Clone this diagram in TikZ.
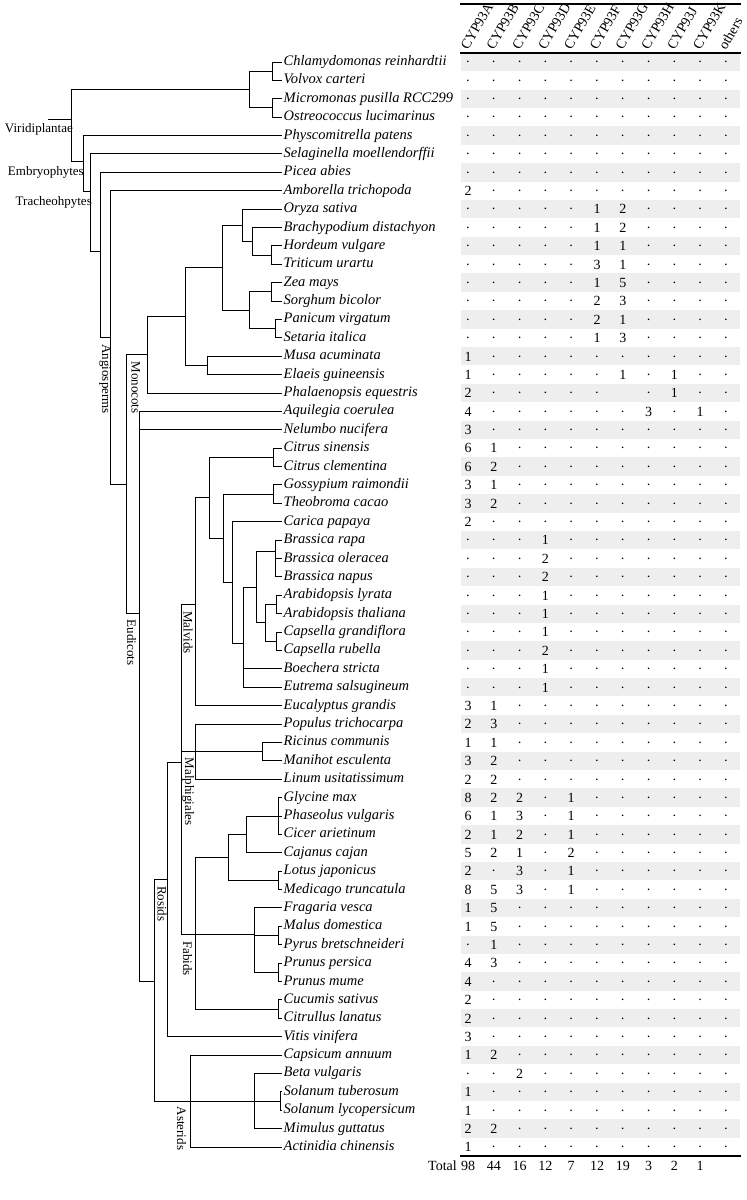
\documentclass[tikz,border=0pt]{standalone}
\usepackage{fontspec}
\setmainfont{Liberation Serif}
\definecolor{bandgray}{RGB}{238,238,238}
\newcommand\dt{·}
\newcommand\tabrow[2]{%
  \foreach \v [count=\i from 0] in {#2} {%
    \node[cell] (t#1-\i) at ({468+25.8*\i},{#1+0.26}) {\v};}}
\newcommand\tedge[2]{\draw[br] (#1) |- (#2);}
\begin{document}
\begin{tikzpicture}[x=1pt,y=-18.39pt,
  br/.style={line width=1pt},
  sp/.style={anchor=west,inner sep=1.5pt,text height=10pt,text depth=3pt,font=\fontsize{14.5}{16}\selectfont\itshape},
  clade/.style={inner sep=0pt,font=\fontsize{13}{15}\selectfont},
  vclade/.style={clade,rotate=-90,anchor=base west},
  hdr/.style={rotate=60,anchor=base west,inner sep=0pt,font=\fontsize{14}{16}\selectfont},
  cell/.style={anchor=base,inner sep=0pt,font=\fontsize{14}{16}\selectfont},
  rulel/.style={line width=2.2pt}]
\useasboundingbox (0,-2.3714) rectangle (747,62.8814);

% ---------- table background ----------
\foreach \r in {1,3,...,59} \fill[bandgray] (461,\r-0.5) rectangle (740,\r+0.5);
\draw[rulel] (460,-2.154) -- (741,-2.154);
\draw[line width=1.8pt] (460,0.5) -- (741,0.5);
\draw[line width=2pt] (460,60.5) -- (741,60.5);

% ---------- headers ----------
\foreach \h [count=\i from 0] in {CYP93A,CYP93B,CYP93C,CYP93D,CYP93E,CYP93F,CYP93G,CYP93H,CYP93J,CYP93K,others}
  \node[hdr] (h\i) at ({468+25.8*\i},0.40) {\h};

% ---------- leaves ----------
\node[sp] (s1) at (282,1) {Chlamydomonas reinhardtii};
\node[sp] (s2) at (282,2) {Volvox carteri};
\node[sp] (s3) at (282,3) {Micromonas pusilla RCC299};
\node[sp] (s4) at (282,4) {Ostreococcus lucimarinus};
\node[sp] (s5) at (282,5) {Physcomitrella patens};
\node[sp] (s6) at (282,6) {Selaginella moellendorffii};
\node[sp] (s7) at (282,7) {Picea abies};
\node[sp] (s8) at (282,8) {Amborella trichopoda};
\node[sp] (s9) at (282,9) {Oryza sativa};
\node[sp] (s10) at (282,10) {Brachypodium distachyon};
\node[sp] (s11) at (282,11) {Hordeum vulgare};
\node[sp] (s12) at (282,12) {Triticum urartu};
\node[sp] (s13) at (282,13) {Zea mays};
\node[sp] (s14) at (282,14) {Sorghum bicolor};
\node[sp] (s15) at (282,15) {Panicum virgatum};
\node[sp] (s16) at (282,16) {Setaria italica};
\node[sp] (s17) at (282,17) {Musa acuminata};
\node[sp] (s18) at (282,18) {Elaeis guineensis};
\node[sp] (s19) at (282,19) {Phalaenopsis equestris};
\node[sp] (s20) at (282,20) {Aquilegia coerulea};
\node[sp] (s21) at (282,21) {Nelumbo nucifera};
\node[sp] (s22) at (282,22) {Citrus sinensis};
\node[sp] (s23) at (282,23) {Citrus clementina};
\node[sp] (s24) at (282,24) {Gossypium raimondii};
\node[sp] (s25) at (282,25) {Theobroma cacao};
\node[sp] (s26) at (282,26) {Carica papaya};
\node[sp] (s27) at (282,27) {Brassica rapa};
\node[sp] (s28) at (282,28) {Brassica oleracea};
\node[sp] (s29) at (282,29) {Brassica napus};
\node[sp] (s30) at (282,30) {Arabidopsis lyrata};
\node[sp] (s31) at (282,31) {Arabidopsis thaliana};
\node[sp] (s32) at (282,32) {Capsella grandiflora};
\node[sp] (s33) at (282,33) {Capsella rubella};
\node[sp] (s34) at (282,34) {Boechera stricta};
\node[sp] (s35) at (282,35) {Eutrema salsugineum};
\node[sp] (s36) at (282,36) {Eucalyptus grandis};
\node[sp] (s37) at (282,37) {Populus trichocarpa};
\node[sp] (s38) at (282,38) {Ricinus communis};
\node[sp] (s39) at (282,39) {Manihot esculenta};
\node[sp] (s40) at (282,40) {Linum usitatissimum};
\node[sp] (s41) at (282,41) {Glycine max};
\node[sp] (s42) at (282,42) {Phaseolus vulgaris};
\node[sp] (s43) at (282,43) {Cicer arietinum};
\node[sp] (s44) at (282,44) {Cajanus cajan};
\node[sp] (s45) at (282,45) {Lotus japonicus};
\node[sp] (s46) at (282,46) {Medicago truncatula};
\node[sp] (s47) at (282,47) {Fragaria vesca};
\node[sp] (s48) at (282,48) {Malus domestica};
\node[sp] (s49) at (282,49) {Pyrus bretschneideri};
\node[sp] (s50) at (282,50) {Prunus persica};
\node[sp] (s51) at (282,51) {Prunus mume};
\node[sp] (s52) at (282,52) {Cucumis sativus};
\node[sp] (s53) at (282,53) {Citrullus lanatus};
\node[sp] (s54) at (282,54) {Vitis vinifera};
\node[sp] (s55) at (282,55) {Capsicum annuum};
\node[sp] (s56) at (282,56) {Beta vulgaris};
\node[sp] (s57) at (282,57) {Solanum tuberosum};
\node[sp] (s58) at (282,58) {Solanum lycopersicum};
\node[sp] (s59) at (282,59) {Mimulus guttatus};
\node[sp] (s60) at (282,60) {Actinidia chinensis};

% ---------- internal nodes ----------
\coordinate (RS) at (48,4.1);
\coordinate (ROOT) at (71,4.1);
\coordinate (GA) at (249,2.5);
\coordinate (CV) at (272,1.5);
\coordinate (MO) at (272,3.5);
\coordinate (EMB) at (83,6.4);
\coordinate (TRA) at (90.7,8.05);
\coordinate (SPE) at (100,11.3);
\coordinate (ANG) at (110,16.0);
\coordinate (MES) at (126,24.0);
\coordinate (MON) at (147.7,16.92);
\coordinate (COM) at (185,14.84);
\coordinate (POA) at (222.7,12.19);
\coordinate (BOP) at (242.7,9.875);
\coordinate (BHT) at (252.7,10.75);
\coordinate (HT) at (271.7,11.5);
\coordinate (PAC) at (249.3,14.5);
\coordinate (ZS) at (271.7,13.5);
\coordinate (PS) at (275,15.5);
\coordinate (ME) at (207.3,17.5);
\coordinate (EUD) at (139.5,31.0);
\coordinate (CORE) at (154,51.0);
\coordinate (SRS) at (167.3,45.45);
\coordinate (RSD) at (181.7,39.11);
\coordinate (MAL) at (195.5,30.5);
\coordinate (N209) at (209,24.7);
\coordinate (CIT) at (273.3,22.5);
\coordinate (MB) at (223.3,26.9);
\coordinate (GT) at (273.3,24.5);
\coordinate (CB) at (232.7,29.3);
\coordinate (BRS) at (243.3,32.6);
\coordinate (BA) at (256.7,29.55);
\coordinate (BRA) at (275,27.6);
\coordinate (AC) at (265.7,31.5);
\coordinate (AL) at (276.7,30.5);
\coordinate (CAP) at (276.7,32.5);
\coordinate (MPG) at (195.5,38.5);
\coordinate (RM) at (262.3,38.5);
\coordinate (FBD) at (195.5,48.45);
\coordinate (FAB) at (228.3,44.25);
\coordinate (GPCC) at (246.7,43);
\coordinate (GPC) at (278.3,42);
\coordinate (LM) at (278.3,45.5);
\coordinate (ROS) at (254,48.45);
\coordinate (MP) at (278.3,48.5);
\coordinate (PP) at (278.3,50.5);
\coordinate (CUC) at (278.3,52.5);
\coordinate (AST) at (190,57.5);
\coordinate (BSM) at (254,57.5);
\coordinate (SOL) at (280,57.5);

% ---------- branches ----------
\draw[br] (RS) -- (ROOT);
\tedge{ROOT}{GA} \tedge{ROOT}{EMB}
\tedge{GA}{CV} \tedge{GA}{MO}
\tedge{CV}{s1.west} \tedge{CV}{s2.west}
\tedge{MO}{s3.west} \tedge{MO}{s4.west}
\tedge{EMB}{s5.west} \tedge{EMB}{TRA}
\tedge{TRA}{s6.west} \tedge{TRA}{SPE}
\tedge{SPE}{s7.west} \tedge{SPE}{ANG}
\tedge{ANG}{s8.west} \tedge{ANG}{MES}
\tedge{MES}{MON} \tedge{MES}{EUD}
\tedge{MON}{COM} \tedge{MON}{s19.west}
\tedge{COM}{POA} \tedge{COM}{ME}
\tedge{POA}{BOP} \tedge{POA}{PAC}
\tedge{BOP}{s9.west} \tedge{BOP}{BHT}
\tedge{BHT}{s10.west} \tedge{BHT}{HT}
\tedge{HT}{s11.west} \tedge{HT}{s12.west}
\tedge{PAC}{ZS} \tedge{PAC}{PS}
\tedge{ZS}{s13.west} \tedge{ZS}{s14.west}
\tedge{PS}{s15.west} \tedge{PS}{s16.west}
\tedge{ME}{s17.west} \tedge{ME}{s18.west}
\tedge{EUD}{s20.west} \tedge{EUD}{s21.west} \tedge{EUD}{CORE}
\tedge{CORE}{SRS} \tedge{CORE}{AST}
\tedge{SRS}{RSD} \tedge{SRS}{s54.west}
\tedge{RSD}{MAL} \tedge{RSD}{MPG} \tedge{RSD}{FBD}
\tedge{MAL}{N209} \tedge{MAL}{s36.west}
\tedge{N209}{CIT} \tedge{N209}{MB}
\tedge{CIT}{s22.west} \tedge{CIT}{s23.west}
\tedge{MB}{GT} \tedge{MB}{CB}
\tedge{GT}{s24.west} \tedge{GT}{s25.west}
\tedge{CB}{s26.west} \tedge{CB}{BRS}
\tedge{BRS}{BA} \tedge{BRS}{s34.west} \tedge{BRS}{s35.west}
\tedge{BA}{BRA} \tedge{BA}{AC}
\tedge{BRA}{s27.west} \tedge{BRA}{s28.west} \tedge{BRA}{s29.west}
\tedge{AC}{AL} \tedge{AC}{CAP}
\tedge{AL}{s30.west} \tedge{AL}{s31.west}
\tedge{CAP}{s32.west} \tedge{CAP}{s33.west}
\tedge{MPG}{s37.west} \tedge{MPG}{RM} \tedge{MPG}{s40.west}
\tedge{RM}{s38.west} \tedge{RM}{s39.west}
\tedge{FBD}{FAB} \tedge{FBD}{ROS} \tedge{FBD}{CUC}
\tedge{FAB}{GPCC} \tedge{FAB}{LM}
\tedge{GPCC}{GPC} \tedge{GPCC}{s44.west}
\tedge{GPC}{s41.west} \tedge{GPC}{s42.west} \tedge{GPC}{s43.west}
\tedge{LM}{s45.west} \tedge{LM}{s46.west}
\tedge{ROS}{s47.west} \tedge{ROS}{MP} \tedge{ROS}{PP}
\tedge{MP}{s48.west} \tedge{MP}{s49.west}
\tedge{PP}{s50.west} \tedge{PP}{s51.west}
\tedge{CUC}{s52.west} \tedge{CUC}{s53.west}
\tedge{AST}{s55.west} \tedge{AST}{BSM} \tedge{AST}{s60.west}
\tedge{BSM}{s56.west} \tedge{BSM}{SOL} \tedge{BSM}{s59.west}
\tedge{SOL}{s57.west} \tedge{SOL}{s58.west}

% ---------- clade labels ----------
\node[clade,anchor=base east] (lvir) at (73,4.86) {Viridiplantae};
\node[clade,anchor=base east] (lemb) at (84,7.16) {Embryophytes};
\node[clade,anchor=base east] (ltra) at (92,8.81) {Tracheohpytes};
\node[vclade] (lang) at (102,16.35) {Angiosperms};
\node[vclade] (lmon) at (131.5,17.28) {Monocots};
\node[vclade] (leud) at (127,31.33) {Eudicots};
\node[vclade] (lmal) at (183.5,30.86) {Malvids};
\node[vclade] (lmpg) at (185,38.83) {Malphigiales};
\node[vclade] (lfab) at (183,48.8) {Fabids};
\node[vclade] (lros) at (157.5,45.8) {Rosids};
\node[vclade] (last) at (177,57.8) {Asterids};

% ---------- table values ----------
\tabrow{1}{\dt,\dt,\dt,\dt,\dt,\dt,\dt,\dt,\dt,\dt,\dt}
\tabrow{2}{\dt,\dt,\dt,\dt,\dt,\dt,\dt,\dt,\dt,\dt,\dt}
\tabrow{3}{\dt,\dt,\dt,\dt,\dt,\dt,\dt,\dt,\dt,\dt,\dt}
\tabrow{4}{\dt,\dt,\dt,\dt,\dt,\dt,\dt,\dt,\dt,\dt,\dt}
\tabrow{5}{\dt,\dt,\dt,\dt,\dt,\dt,\dt,\dt,\dt,\dt,\dt}
\tabrow{6}{\dt,\dt,\dt,\dt,\dt,\dt,\dt,\dt,\dt,\dt,\dt}
\tabrow{7}{\dt,\dt,\dt,\dt,\dt,\dt,\dt,\dt,\dt,\dt,\dt}
\tabrow{8}{2,\dt,\dt,\dt,\dt,\dt,\dt,\dt,\dt,\dt,\dt}
\tabrow{9}{\dt,\dt,\dt,\dt,\dt,1,2,\dt,\dt,\dt,\dt}
\tabrow{10}{\dt,\dt,\dt,\dt,\dt,1,2,\dt,\dt,\dt,\dt}
\tabrow{11}{\dt,\dt,\dt,\dt,\dt,1,1,\dt,\dt,\dt,\dt}
\tabrow{12}{\dt,\dt,\dt,\dt,\dt,3,1,\dt,\dt,\dt,\dt}
\tabrow{13}{\dt,\dt,\dt,\dt,\dt,1,5,\dt,\dt,\dt,\dt}
\tabrow{14}{\dt,\dt,\dt,\dt,\dt,2,3,\dt,\dt,\dt,\dt}
\tabrow{15}{\dt,\dt,\dt,\dt,\dt,2,1,\dt,\dt,\dt,\dt}
\tabrow{16}{\dt,\dt,\dt,\dt,\dt,1,3,\dt,\dt,\dt,\dt}
\tabrow{17}{1,\dt,\dt,\dt,\dt,\dt,\dt,\dt,\dt,\dt,\dt}
\tabrow{18}{1,\dt,\dt,\dt,\dt,\dt,1,\dt,1,\dt,\dt}
\tabrow{19}{2,\dt,\dt,\dt,\dt,\dt,{},\dt,1,\dt,\dt}
\tabrow{20}{4,\dt,\dt,\dt,\dt,\dt,\dt,3,\dt,1,\dt}
\tabrow{21}{3,\dt,\dt,\dt,\dt,\dt,\dt,\dt,\dt,\dt,\dt}
\tabrow{22}{6,1,\dt,\dt,\dt,\dt,\dt,\dt,\dt,\dt,\dt}
\tabrow{23}{6,2,\dt,\dt,\dt,\dt,\dt,\dt,\dt,\dt,\dt}
\tabrow{24}{3,1,\dt,\dt,\dt,\dt,\dt,\dt,\dt,\dt,\dt}
\tabrow{25}{3,2,\dt,\dt,\dt,\dt,\dt,\dt,\dt,\dt,\dt}
\tabrow{26}{2,\dt,\dt,\dt,\dt,\dt,\dt,\dt,\dt,\dt,\dt}
\tabrow{27}{\dt,\dt,\dt,1,\dt,\dt,\dt,\dt,\dt,\dt,\dt}
\tabrow{28}{\dt,\dt,\dt,2,\dt,\dt,\dt,\dt,\dt,\dt,\dt}
\tabrow{29}{\dt,\dt,\dt,2,\dt,\dt,\dt,\dt,\dt,\dt,\dt}
\tabrow{30}{\dt,\dt,\dt,1,\dt,\dt,\dt,\dt,\dt,\dt,\dt}
\tabrow{31}{\dt,\dt,\dt,1,\dt,\dt,\dt,\dt,\dt,\dt,\dt}
\tabrow{32}{\dt,\dt,\dt,1,\dt,\dt,\dt,\dt,\dt,\dt,\dt}
\tabrow{33}{\dt,\dt,\dt,2,\dt,\dt,\dt,\dt,\dt,\dt,\dt}
\tabrow{34}{\dt,\dt,\dt,1,\dt,\dt,\dt,\dt,\dt,\dt,\dt}
\tabrow{35}{\dt,\dt,\dt,1,\dt,\dt,\dt,\dt,\dt,\dt,\dt}
\tabrow{36}{3,1,\dt,\dt,\dt,\dt,\dt,\dt,\dt,\dt,\dt}
\tabrow{37}{2,3,\dt,\dt,\dt,\dt,\dt,\dt,\dt,\dt,\dt}
\tabrow{38}{1,1,\dt,\dt,\dt,\dt,\dt,\dt,\dt,\dt,\dt}
\tabrow{39}{3,2,\dt,\dt,\dt,\dt,\dt,\dt,\dt,\dt,\dt}
\tabrow{40}{2,2,\dt,\dt,\dt,\dt,\dt,\dt,\dt,\dt,\dt}
\tabrow{41}{8,2,2,\dt,1,\dt,\dt,\dt,\dt,\dt,\dt}
\tabrow{42}{6,1,3,\dt,1,\dt,\dt,\dt,\dt,\dt,\dt}
\tabrow{43}{2,1,2,\dt,1,\dt,\dt,\dt,\dt,\dt,\dt}
\tabrow{44}{5,2,1,\dt,2,\dt,\dt,\dt,\dt,\dt,\dt}
\tabrow{45}{2,\dt,3,\dt,1,\dt,\dt,\dt,\dt,\dt,\dt}
\tabrow{46}{8,5,3,\dt,1,\dt,\dt,\dt,\dt,\dt,\dt}
\tabrow{47}{1,5,\dt,\dt,\dt,\dt,\dt,\dt,\dt,\dt,\dt}
\tabrow{48}{1,5,\dt,\dt,\dt,\dt,\dt,\dt,\dt,\dt,\dt}
\tabrow{49}{\dt,1,\dt,\dt,\dt,\dt,\dt,\dt,\dt,\dt,\dt}
\tabrow{50}{4,3,\dt,\dt,\dt,\dt,\dt,\dt,\dt,\dt,\dt}
\tabrow{51}{4,\dt,\dt,\dt,\dt,\dt,\dt,\dt,\dt,\dt,\dt}
\tabrow{52}{2,\dt,\dt,\dt,\dt,\dt,\dt,\dt,\dt,\dt,\dt}
\tabrow{53}{2,\dt,\dt,\dt,\dt,\dt,\dt,\dt,\dt,\dt,\dt}
\tabrow{54}{3,\dt,\dt,\dt,\dt,\dt,\dt,\dt,\dt,\dt,\dt}
\tabrow{55}{1,2,\dt,\dt,\dt,\dt,\dt,\dt,\dt,\dt,\dt}
\tabrow{56}{\dt,\dt,2,\dt,\dt,\dt,\dt,\dt,\dt,\dt,\dt}
\tabrow{57}{1,\dt,\dt,\dt,\dt,\dt,\dt,\dt,\dt,\dt,\dt}
\tabrow{58}{1,\dt,\dt,\dt,\dt,\dt,\dt,\dt,\dt,\dt,\dt}
\tabrow{59}{2,2,\dt,\dt,\dt,\dt,\dt,\dt,\dt,\dt,\dt}
\tabrow{60}{1,\dt,\dt,\dt,\dt,\dt,\dt,\dt,\dt,\dt,\dt}
\node[cell,anchor=base east] (total) at (457,61.26) {Total};
\tabrow{61}{98,44,16,12,7,12,19,3,2,1}
\end{tikzpicture}
\end{document}
